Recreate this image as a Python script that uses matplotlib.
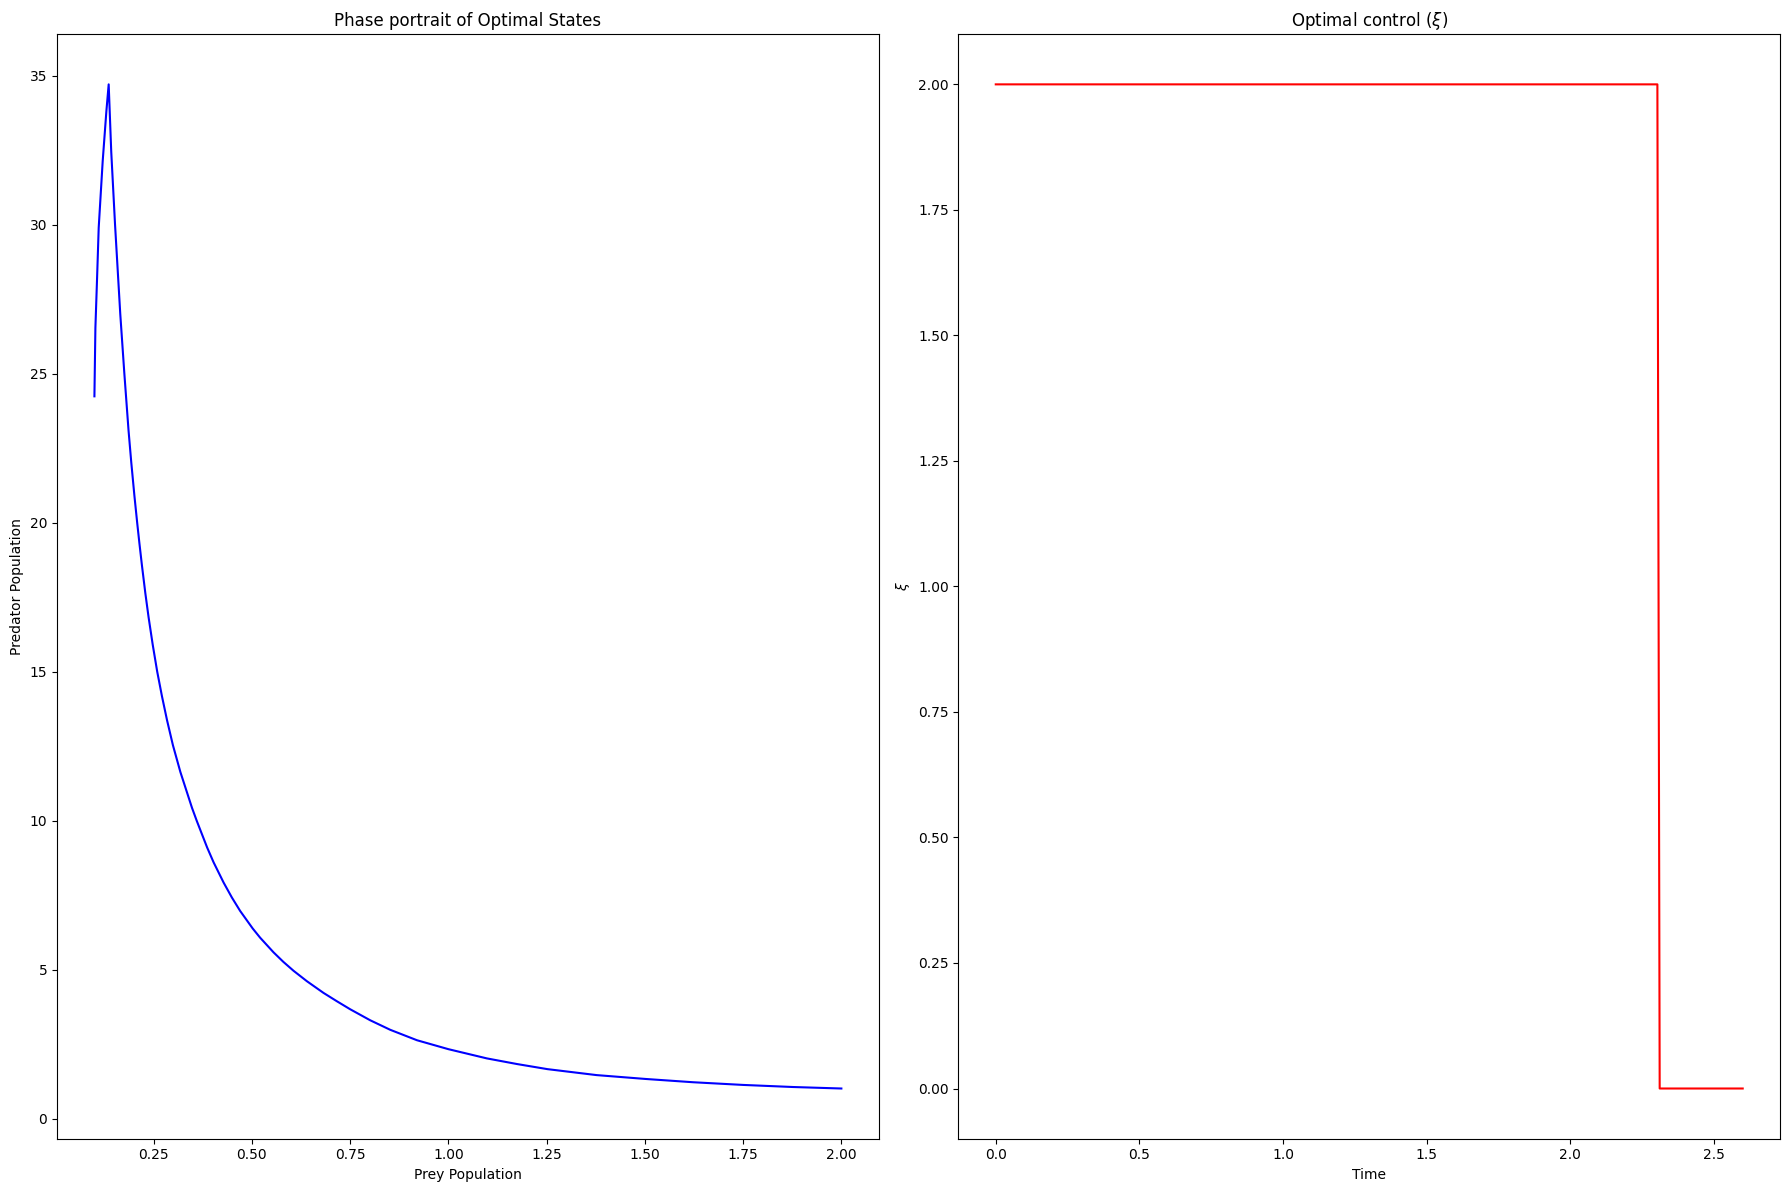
import matplotlib
matplotlib.use("Agg")
import matplotlib.pyplot as plt

# Phase portrait data (prey, predator)
prey = [0.0992, 0.1017, 0.106, 0.1101, 0.1203, 0.1297, 0.1355, 0.142, 0.1517, 0.165,
        0.1754, 0.186, 0.193, 0.201, 0.208, 0.2136, 0.220, 0.2288, 0.237, 0.2475,
        0.259, 0.271, 0.284, 0.299, 0.318, 0.3475, 0.360, 0.386, 0.4025, 0.428,
        0.449, 0.470, 0.502, 0.521, 0.555, 0.580, 0.606, 0.640, 0.682, 0.716,
        0.750, 0.801, 0.852, 0.920, 1.000, 1.098, 1.175, 1.252, 1.377, 1.502,
        1.623, 1.750, 1.877, 2.000]
predator = [24.24, 26.54, 28.22, 29.90, 32.14, 33.82, 34.71, 32.45, 30.00, 27.00,
            25.00, 23.10, 22.02, 20.90, 20.00, 19.32, 18.58, 17.63, 16.83, 15.91,
            15.00, 14.18, 13.37, 12.53, 11.63, 10.43, 9.98, 9.10, 8.60, 7.92,
            7.42, 6.97, 6.38, 6.07, 5.58, 5.26, 4.96, 4.61, 4.22, 3.94,
            3.67, 3.30, 2.98, 2.63, 2.33, 2.02, 1.83, 1.66, 1.46, 1.33,
            1.22, 1.13, 1.06, 1.01]

# Optimal control data
time = [0.0, 2.303, 2.311, 2.60]
xi = [2.0, 2.0, 0.0, 0.0]

fig, (ax1, ax2) = plt.subplots(1, 2, figsize=(17.89, 11.9), dpi=100)
fig.subplots_adjust(left=0.0319, right=0.995, top=0.9713, bottom=0.0431, wspace=0.097)

ax1.plot(prey, predator, color="blue")
ax1.set_title("Phase portrait of Optimal States")
ax1.set_xlabel("Prey Population")
ax1.set_ylabel("Predator Population")

ax2.plot(time, xi, color="red")
ax2.set_title(r"Optimal control ($\xi$)")
ax2.set_xlabel("Time")
ax2.set_ylabel(r"$\xi$")

fig.savefig("out.png", dpi=100)
